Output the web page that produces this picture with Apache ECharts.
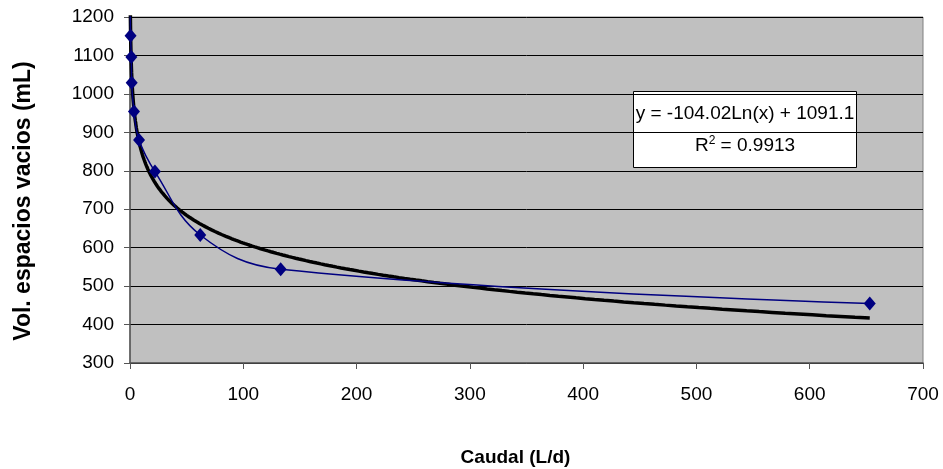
<!DOCTYPE html>
<html>
<head>
<meta charset="utf-8">
<script src="https://cdn.jsdelivr.net/npm/echarts@6/dist/echarts.min.js"></script>
<style>
  html, body { margin: 0; padding: 0; background: #ffffff; }
  #chart { width: 943px; height: 469px; }
</style>
</head>
<body>
<div id="chart"></div>
<script>
// Measured flow (L/d) and void volume (mL)
const caudal  = [0.2, 0.5, 1.2, 1.5, 3.5, 8, 22, 62, 133, 653];
const volumen = [1250, 1151, 1096, 1029, 954, 880, 798, 633, 544, 455];

// Axis ranges: [min, max, step]
const xRange = [0, 700, 100];
const yRange = [300, 1200, 100];

// Logarithmic regression y = a·ln(x) + b
const trendA = -104.02;
const trendB = 1091.1;
const trendR2 = 0.9913;

const FONT = '"Liberation Sans", Arial, sans-serif';

// Trend curve sampled on a log scale across the measured flow range
const xMin = Math.min(...caudal);
const xMax = Math.max(...caudal);
const trendData = [];
const N = 400;
for (let i = 0; i <= N; i++) {
  const x = xMin * Math.pow(xMax / xMin, i / N);
  trendData.push([x, trendA * Math.log(x) + trendB]);
}

const measured = caudal.map((x, i) => [x, volumen[i]]);

const chart = echarts.init(document.getElementById('chart'), null, { renderer: 'canvas' });

chart.setOption({
  animation: false,
  backgroundColor: '#ffffff',
  grid: {
    left: 130, right: 20, top: 17, bottom: 106,
    containLabel: false,
    outerBoundsMode: 'none',
    show: true,
    backgroundColor: '#c0c0c0',
    borderColor: '#808080',
    borderWidth: 1
  },
  xAxis: {
    type: 'value',
    min: xRange[0], max: xRange[1], interval: xRange[2],
    name: 'Caudal (L/d)',
    nameLocation: 'middle',
    nameGap: 85,
    nameTextStyle: { fontFamily: FONT, fontWeight: 'bold', fontSize: 19, color: '#000', padding: [0, 22, 0, 0] },
    axisLine: { show: true, onZero: false, lineStyle: { color: '#555555', width: 1.5 } },
    axisTick: { show: true, length: 6, lineStyle: { color: '#555555', width: 1 } },
    axisLabel: { fontFamily: FONT, fontSize: 19, color: '#000', margin: 22, formatter: v => String(v) },
    splitLine: { show: false }
  },
  yAxis: {
    type: 'value',
    min: yRange[0], max: yRange[1], interval: yRange[2],
    name: 'Vol. espacios vacios (mL)',
    nameLocation: 'middle',
    nameGap: 95,
    nameRotate: 90,
    nameTextStyle: { fontFamily: FONT, fontWeight: 'bold', fontSize: 23, color: '#000', padding: [0, 22, 0, 0] },
    axisLine: { show: true, onZero: false, lineStyle: { color: '#555555', width: 1.5 } },
    axisTick: { show: true, length: 6, lineStyle: { color: '#555555', width: 1 } },
    axisLabel: { fontFamily: FONT, fontSize: 19, color: '#000', margin: 16, formatter: v => String(v) },
    splitLine: { show: true, lineStyle: { color: '#000000', width: 1 } }
  },
  series: [
    {
      name: 'Tendencia',
      type: 'line',
      data: trendData,
      showSymbol: false,
      symbol: 'none',
      clip: true,
      z: 3,
      lineStyle: { color: '#000000', width: 3.5 }
    },
    {
      name: 'Medido',
      type: 'line',
      data: measured,
      smooth: 0.4,
      clip: true,
      z: 4,
      symbol: 'diamond',
      symbolSize: [12, 14],
      itemStyle: { color: '#000080' },
      lineStyle: { color: '#000080', width: 1.5 }
    }
  ],
  graphic: [
    {
      type: 'group',
      left: 633, top: 91,
      children: [
        {
          type: 'rect',
          shape: { x: 0, y: 0, width: 223, height: 76 },
          style: { fill: '#ffffff', stroke: '#000000', lineWidth: 1 }
        },
        {
          type: 'text',
          x: 111.5, y: 22,
          style: {
            text: 'y = -104.02Ln(x) + 1091.1',
            fontFamily: FONT, fontSize: 19, fill: '#000',
            align: 'center', verticalAlign: 'middle'
          }
        },
        {
          type: 'text',
          x: 111.5, y: 54,
          style: {
            text: 'R{sup|2} = ' + trendR2.toFixed(4),
            fontFamily: FONT, fontSize: 19, fill: '#000',
            align: 'center', verticalAlign: 'middle',
            rich: {
              sup: { fontFamily: FONT, fontSize: 12, fill: '#000', verticalAlign: 'top', padding: [0, 0, 10, 0] }
            }
          }
        }
      ]
    }
  ]
});
</script>
</body>
</html>
